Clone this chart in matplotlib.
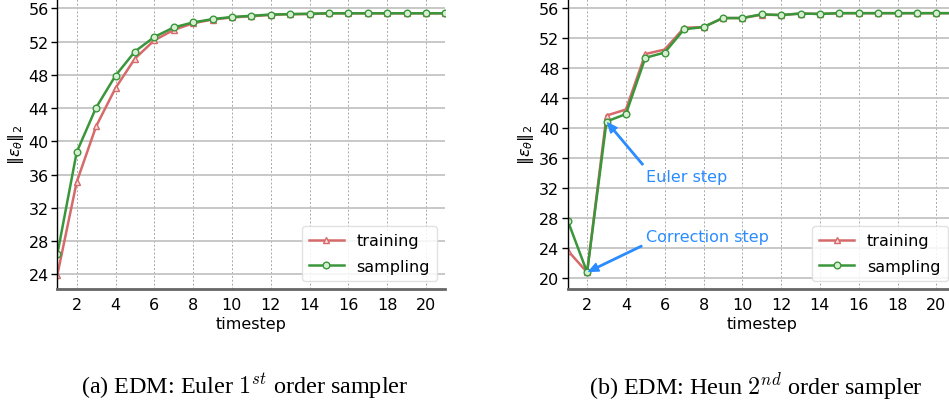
import matplotlib
matplotlib.use('Agg')
import matplotlib.pyplot as plt

# data
steps = list(range(1, 22))

euler_train = [23.9, 35.1, 41.8, 46.4, 49.95, 52.15, 53.4, 54.2, 54.65, 54.9, 55.05,
               55.2, 55.3, 55.3, 55.4, 55.4, 55.4, 55.4, 55.4, 55.4, 55.4]
euler_sample = [26.4, 38.7, 44.05, 47.9, 50.8, 52.55, 53.7, 54.3, 54.7, 54.95, 55.1,
                55.25, 55.3, 55.35, 55.4, 55.4, 55.4, 55.4, 55.4, 55.4, 55.4]

heun_train = [23.7, 20.8, 41.7, 42.5, 49.9, 50.5, 53.4, 53.5, 54.7, 54.7, 55.15,
              55.1, 55.3, 55.25, 55.35, 55.35, 55.35, 55.35, 55.35, 55.35, 55.35]
heun_sample = [27.7, 20.8, 40.9, 41.9, 49.4, 50.1, 53.2, 53.5, 54.7, 54.7, 55.2,
               55.1, 55.3, 55.25, 55.35, 55.35, 55.35, 55.35, 55.35, 55.35, 55.35]

yticks_a = [24, 28, 32, 36, 40, 44, 48, 52, 56]
yticks_b = [20, 24, 28, 32, 36, 40, 44, 48, 52, 56]
xticks = [2, 4, 6, 8, 10, 12, 14, 16, 18, 20]
captions = [r'(a) EDM: Euler $1^{st}$ order sampler',
            r'(b) EDM: Heun $2^{nd}$ order sampler']

red = '#d66a6a'
green = '#3a963a'
blue = '#2a8cff'

W, H = 949, 402
fig = plt.figure(figsize=(W / 100, H / 100), dpi=100)

ax1 = fig.add_axes([57.3 / W, 112 / H, 388 / W, 290 / H])
ax2 = fig.add_axes([567.7 / W, 112 / H, 388 / W, 290 / H])


def style(ax, train, sample, ylim, yticks):
    ax.plot(steps, train, color=red, lw=1.8, marker='^', ms=4.5,
            mfc='#f6dede', mec=red, mew=1, label='training')
    ax.plot(steps, sample, color=green, lw=1.8, marker='o', ms=4.8,
            mfc='#d6efd0', mec=green, mew=1, label='sampling')
    ax.set_xlim(1, 21)
    ax.set_ylim(*ylim)
    ax.set_xticks(xticks)
    ax.set_yticks(yticks)
    ax.grid(axis='y', color='#c4c4c4', lw=1.3, ls='-')
    ax.grid(axis='x', color='#a8a8a8', lw=0.7, ls=(0, (2, 2)))
    ax.set_axisbelow(True)
    for s in ['top', 'right']:
        ax.spines[s].set_visible(False)
    ax.spines['left'].set_color('black')
    ax.spines['left'].set_linewidth(1.0)
    ax.spines['bottom'].set_color('#666666')
    ax.spines['bottom'].set_linewidth(2.0)
    ax.tick_params(axis='both', labelsize=11.5, colors='black')
    ax.tick_params(axis='x', length=0, pad=6)
    ax.tick_params(axis='y', length=4, width=1, pad=2)
    ax.set_xlabel('timestep', fontsize=11.5, labelpad=3)
    ax.set_ylabel(r'$\|\epsilon_\theta\|_2$', fontsize=11.5, labelpad=2)
    ax.legend(loc='lower right', fontsize=11.5, handlelength=2.2,
              borderpad=0.45, labelspacing=0.65, framealpha=0.85,
              edgecolor='#dddddd')


style(ax1, euler_train, euler_sample, (22.23, 57.12), yticks_a)
style(ax2, heun_train, heun_sample, (18.57, 57.24), yticks_b)

ax2.annotate('Euler step', xy=(3, heun_sample[2]), xytext=(5.05, 33.6),
             color=blue, fontsize=11.5, ha='left', va='center',
             arrowprops=dict(color=blue, width=1.0, headwidth=6, headlength=7,
                             shrink=0.03))
ax2.annotate('Correction step', xy=(2, heun_sample[1]), xytext=(5.05, 25.6),
             color=blue, fontsize=11.5, ha='left', va='center',
             arrowprops=dict(color=blue, width=1.0, headwidth=6, headlength=7,
                             shrink=0.03))

fig.text(245 / W, 1 - 387 / H, captions[0], ha='center', va='center',
         fontsize=17.4, family='Liberation Serif', math_fontfamily='cm')
fig.text(756 / W, 1 - 387 / H, captions[1], ha='center', va='center',
         fontsize=17.4, family='Liberation Serif', math_fontfamily='cm')

fig.savefig('out.png', dpi=100)
